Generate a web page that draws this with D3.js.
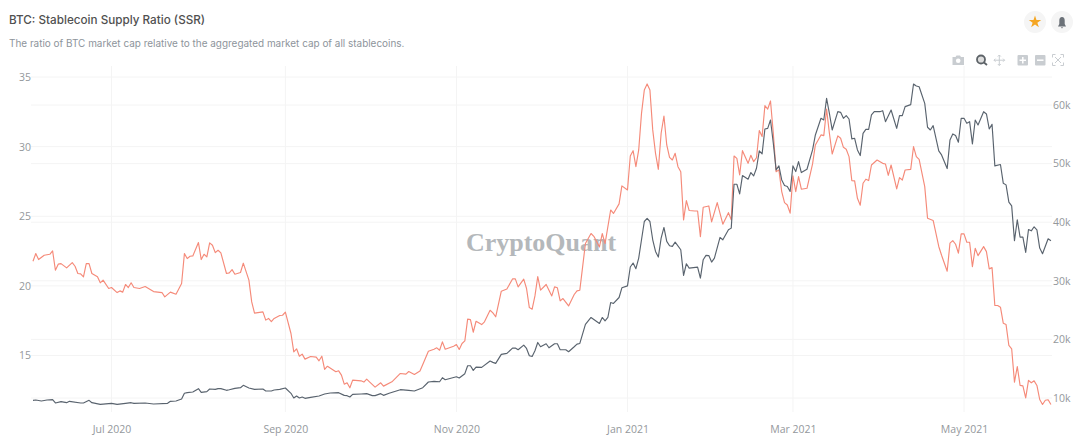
<!DOCTYPE html>
<html>
<head>
<meta charset="utf-8">
<title>BTC: Stablecoin Supply Ratio (SSR)</title>
<script src="https://cdn.jsdelivr.net/npm/d3@7"></script>
<style>
  html, body { margin: 0; padding: 0; background: #fff; }
  #chart { width: 1080px; height: 444px; }
  text { font-family: "Inter", "Noto Sans", sans-serif; }
</style>
</head>
<body>
<div id="chart"></div>
<script>
// Everything is dated as days after 1 Jul 2020
const startDate = "2020-07-01";

const ssrDays = [-28,-27,-26,-24,-22,-21,-20,-19,-18,-16,-14,-13,-12,-11,-10,-9,-8,-7,-5,-4,-3,-1,0,2,3,4,5,6,7,8,10,12,15,18,19,21,23,25,26,27,28,29,31,32,33,34,35,36,37,38,39,41,42,43,44,46,47,49,50,51,54,55,56,57,58,60,61,62,64,65,66,67,68,69,71,73,74,75,76,77,80,81,82,83,84,85,86,89,90,91,92,94,96,97,100,103,105,106,108,110,111,113,115,116,117,118,119,122,123,124,125,126,127,128,129,130,132,133,135,136,137,139,141,143,144,145,147,148,149,150,151,152,153,155,157,158,159,160,161,163,165,166,167,169,171,172,174,175,176,178,179,181,182,184,185,186,187,188,189,190,191,192,193,194,195,196,197,198,199,200,201,202,203,204,205,206,208,209,210,211,213,214,216,218,220,221,222,223,224,225,227,228,229,230,231,232,233,234,235,236,237,238,239,240,241,242,243,244,245,246,248,250,251,253,254,255,256,257,259,260,261,262,263,264,265,266,267,268,269,270,271,273,275,276,277,278,280,281,282,283,285,286,287,288,290,291,293,295,296,298,299,300,301,302,303,304,305,306,307,308,309,311,312,313,314,315,316,317,318,319,320,321,322,323,324,325,326,327,328,329,330,331,332,333,334,335];
const ssrValues = [21.77,22.32,21.89,22.2,22.27,22.51,21.12,21.56,21.6,21.29,21.67,21.41,20.89,20.86,20.65,21.6,21.6,20.89,20.65,20.22,20.41,19.81,19.88,19.52,19.64,19.55,20.1,19.88,20.22,19.88,19.81,19.95,19.59,19.52,19.21,19.55,19.4,20.17,22.32,21.96,22.13,22.15,23.11,21.89,22.27,22.08,23.09,22.92,22.39,22.56,22.37,20.89,20.93,21.17,20.84,20.96,21.63,20.41,18.85,18.04,18.13,17.54,17.66,17.44,17.66,17.87,17.89,18.11,16.58,15.26,15.48,14.95,15.1,14.74,14.93,14.88,14.62,14.95,14.0,14.23,13.83,13.9,13.59,12.94,13.04,12.68,13.23,13.18,13.09,13.3,13.11,12.73,13.04,12.8,13.11,13.71,13.66,13.85,13.64,13.88,14.35,15.31,15.45,15.55,15.38,15.98,15.45,15.67,15.79,15.43,15.86,16.05,17.61,17.58,16.67,17.46,17.22,17.42,18.25,18.06,17.78,19.62,19.78,20.5,20.5,19.93,20.48,19.81,18.44,18.33,19.28,20.67,19.69,20.1,19.28,19.93,19.86,18.92,19.09,18.56,19.38,19.64,19.69,23.04,23.76,23.56,22.8,23.76,23.04,25.45,25.2,25.89,27.18,26.89,29.33,29.71,28.56,29.76,32.39,34.07,34.5,34.07,31.2,29.52,28.37,30.96,32.2,30.12,29.23,29.04,29.52,28.56,28.2,24.74,26.12,25.41,25.38,25.38,23.54,25.65,25.74,24.59,25.98,24.43,25.26,24.74,29.33,29.16,27.97,29.71,28.8,29.38,28.92,29.2,31.15,30.72,32.94,32.7,33.28,30.96,28.2,28.33,26.77,25.98,25.81,25.22,27.9,26.77,27.85,26.94,27.01,28.76,30.12,30.84,30.79,32.7,30.96,29.47,30.77,30.6,29.95,29.81,29.28,27.56,27.54,26.29,25.79,27.37,27.66,27.56,28.68,29.04,28.8,28.75,27.94,28.68,26.96,27.77,27.6,28.32,28.37,30.0,29.28,29.09,27.13,24.86,24.7,22.83,22.2,21.05,23.07,23.25,22.99,22.35,23.73,23.73,23.13,23.13,21.38,22.7,22.17,22.82,22.46,21.22,21.31,18.59,18.59,18.47,17.32,17.22,15.72,15.48,13.09,14.21,12.85,12.82,11.96,13.21,13.04,13.18,12.85,11.84,11.48,11.79,11.82,11.48];

const btcDays = [-28,-27,-25,-23,-21,-20,-18,-16,-15,-11,-10,-8,-7,-4,0,2,5,7,8,12,15,20,21,23,25,26,27,29,31,32,34,35,37,38,39,41,42,44,46,47,49,51,54,55,57,58,60,62,64,65,66,67,68,69,71,74,76,78,81,83,84,85,86,89,91,93,94,96,97,99,103,106,108,111,113,115,117,118,119,123,124,126,127,128,129,130,132,135,136,137,139,141,143,144,145,147,148,149,150,151,152,153,155,156,158,159,160,162,163,165,166,167,169,171,172,174,175,176,177,178,179,181,182,184,185,186,187,188,189,190,191,192,193,194,195,196,197,198,199,200,201,203,204,205,206,209,210,211,212,213,214,215,217,218,220,221,222,223,224,225,227,228,229,230,231,232,233,234,235,236,237,238,239,240,241,242,243,244,245,246,248,250,251,253,254,255,256,257,259,260,261,262,263,264,265,266,267,268,269,270,271,272,274,275,276,278,280,281,282,283,285,286,287,288,290,291,292,293,295,296,298,299,300,301,302,303,304,305,306,307,308,309,311,312,313,314,315,317,318,319,320,321,322,323,324,325,326,327,328,329,330,331,332,334,335];
const btcValues = [9.6,9.66,9.49,9.66,9.72,9.15,9.38,9.2,9.43,9.15,9.15,9.6,9.2,8.92,9.09,8.92,9.09,9.2,9.09,9.15,8.98,9.09,9.43,9.49,9.83,10.8,10.91,11.02,11.59,10.97,11.08,11.53,11.48,11.59,11.6,11.31,11.4,11.65,11.76,12.16,11.7,11.48,11.53,11.19,11.19,11.36,11.48,11.7,10.8,10.0,10.34,10.0,10.17,9.94,10.11,10.34,10.68,10.85,10.91,10.45,10.4,10.17,10.62,10.68,10.74,10.4,10.4,10.74,10.45,10.8,11.42,11.31,11.19,11.76,12.73,12.84,12.78,13.46,13.12,13.63,13.41,14.15,15.51,15.51,14.71,15.28,15.22,16.3,16.08,15.91,17.44,17.61,18.52,18.52,18.23,19.03,18.46,17.21,17.1,18.06,19.48,18.75,19.26,18.57,19.26,19.26,18.23,18.23,17.89,18.75,19.2,19.31,22.55,23.74,23.4,22.72,23.74,23.17,23.74,26.3,26.13,27.15,28.8,29.14,32.35,33.03,32.06,33.88,37.0,40.12,40.64,40.12,37.0,35.01,34.05,37.29,39.1,36.72,35.98,35.87,36.6,35.3,30.93,32.91,32.17,32.34,30.47,33.6,34.33,34.3,33.2,33.88,37.4,37.0,38.7,38.99,46.48,46.48,44.84,47.96,47.34,48.47,47.9,49.21,52.16,51.65,55.91,56.02,57.44,53.47,48.93,49.61,47.22,46.26,46.09,45.24,49.61,48.64,50.35,48.47,49.04,52.33,54.89,57.73,57.44,61.14,58.58,55.74,58.86,58.75,57.73,58.18,57.61,54.21,54.32,52.33,51.37,55.17,55.85,55.85,58.3,58.86,58.86,59.03,57.16,59.15,56.02,58.18,58.18,59.72,60.06,63.58,63.24,63.12,60.28,56.2,55.74,56.48,52.16,51.48,49.15,54.04,55.06,54.78,53.64,57.73,57.73,56.88,57.16,53.36,57.44,56.59,58.86,58.47,55.91,56.7,49.61,49.84,46.66,46.37,43.42,42.79,36.83,40.41,37.45,37.45,34.84,38.76,38.53,39.22,38.7,35.58,34.62,37.17,36.83];

const xTicks = ["2020-07-01", "2020-09-01", "2020-11-01", "2021-01-01", "2021-03-01", "2021-05-01"];
const ssrTicks = [15, 20, 25, 30, 35];
const btcTicks = [10, 20, 30, 40, 50, 60];

// Set up dimensions
const width = 1080;
const height = 444;
const plot = {left: 31, right: 1052, top: 66, bottom: 412};

const parseDate = d3.utcParse("%Y-%m-%d");
const base = parseDate(startDate);

const svg = d3.select("#chart")
    .append("svg")
    .attr("width", width)
    .attr("height", height);

// Scales, calibrated on the tick positions in the reference
const xScale = d3.scaleUtc()
    .domain([parseDate("2020-07-01"), parseDate("2021-05-01")])
    .range([111.5, 964]);
const yLeft = d3.scaleLinear().domain([15, 35]).range([355.5, 77]);
const yRight = d3.scaleLinear().domain([10, 60]).range([398, 105]);

// Title and subtitle
svg.append("text")
    .attr("x", 9)
    .attr("y", 24)
    .style("font-size", "11.7px")
    .style("font-weight", 500)
    .attr("fill", "#505050")
    .text("BTC: Stablecoin Supply Ratio (SSR)");

svg.append("text")
    .attr("x", 9)
    .attr("y", 47)
    .style("font-size", "9.95px")
    .attr("fill", "#8d949b")
    .text("The ratio of BTC market cap relative to the aggregated market cap of all stablecoins.");

// Grid lines
const grid = svg.append("g").attr("stroke", "#f4f4f4").attr("stroke-width", 1);
grid.selectAll(".gx")
    .data(xTicks)
    .enter()
    .append("line")
    .attr("x1", d => xScale(parseDate(d)))
    .attr("x2", d => xScale(parseDate(d)))
    .attr("y1", plot.top)
    .attr("y2", plot.bottom);
grid.selectAll(".gl")
    .data(ssrTicks)
    .enter()
    .append("line")
    .attr("x1", plot.left)
    .attr("x2", plot.right)
    .attr("y1", d => yLeft(d))
    .attr("y2", d => yLeft(d));
grid.selectAll(".gr")
    .data(btcTicks)
    .enter()
    .append("line")
    .attr("x1", plot.left)
    .attr("x2", plot.right)
    .attr("y1", d => yRight(d))
    .attr("y2", d => yRight(d));

// Axes
function styleAxis(g) {
    g.select(".domain").remove();
    g.selectAll("line").remove();
    g.selectAll("text")
        .attr("fill", "#94989c")
        .style("font-size", "10.5px")
        .style("font-family", "'Open Sans', sans-serif");
}

svg.append("g")
    .attr("transform", `translate(0,${plot.bottom + 4})`)
    .call(d3.axisBottom(xScale)
        .tickValues(xTicks.map(parseDate))
        .tickFormat(d3.utcFormat("%b %Y"))
        .tickSize(0)
        .tickPadding(10))
    .call(styleAxis);

svg.append("g")
    .attr("transform", `translate(${plot.left + 1},0)`)
    .call(d3.axisLeft(yLeft).tickValues(ssrTicks).tickSize(0).tickPadding(1))
    .call(styleAxis);

svg.append("g")
    .attr("transform", `translate(${plot.right},0)`)
    .call(d3.axisRight(yRight).tickValues(btcTicks).tickFormat(d => d + "k").tickSize(0).tickPadding(1))
    .call(styleAxis);

// Watermark
svg.append("text")
    .attr("x", 541)
    .attr("y", 251)
    .attr("text-anchor", "middle")
    .style("font-family", "'Liberation Serif', serif")
    .style("font-size", "26px")
    .style("font-weight", "bold")
    .attr("fill", "#b4b8bb")
    .text("CryptoQuant");

// Series
function drawSeries(days, values, yScale, color) {
    const points = days.map((n, i) => ({date: d3.utcDay.offset(base, n), value: values[i]}));
    const line = d3.line()
        .x(d => xScale(d.date))
        .y(d => yScale(d.value));
    svg.append("path")
        .datum(points)
        .attr("fill", "none")
        .attr("stroke", color)
        .attr("stroke-width", 1.15)
        .attr("stroke-linejoin", "round")
        .attr("d", line);
}

drawSeries(ssrDays, ssrValues, yLeft, "#f58a79");
drawSeries(btcDays, btcValues, yRight, "#59636e");

// Star and bell buttons
const buttons = svg.append("g");
buttons.selectAll("circle")
    .data([1035, 1062])
    .enter()
    .append("circle")
    .attr("cx", d => d)
    .attr("cy", 22)
    .attr("r", 11)
    .attr("fill", "#f5f5f5");
buttons.append("path")
    .attr("transform", "translate(1035,22)")
    .attr("d", d3.symbol(d3.symbolStar, 48)())
    .attr("fill", "#f5a623");
buttons.append("path")
    .attr("d", "M1058 26.5 L1059.3 24 L1059.3 20.5 Q1059.3 17 1062 17 Q1064.7 17 1064.7 20.5 L1064.7 24 L1066 26.5 Z M1060.8 27.3 L1063.2 27.3 L1062 28.5 Z")
    .attr("fill", "#6b7178");

// Mode bar
const modebar = svg.append("g");
modebar.append("path")
    .attr("d", "M952.5 57 L955.5 57 L956.5 55.5 L960 55.5 L961 57 L964 57 L964 65 L952.5 65 Z")
    .attr("fill", "#c9cdd1");
modebar.append("circle").attr("cx", 958.2).attr("cy", 60.8).attr("r", 2.3).attr("fill", "#fff");
modebar.append("circle").attr("cx", 981).attr("cy", 59.5).attr("r", 4)
    .attr("fill", "#ddd").attr("stroke", "#5d6368").attr("stroke-width", 1.8);
modebar.append("line").attr("x1", 984).attr("y1", 62.5).attr("x2", 987).attr("y2", 65)
    .attr("stroke", "#5d6368").attr("stroke-width", 1.8);
modebar.append("path")
    .attr("d", "M999.3 55 V65.5 M994 60.2 H1004.6 M997.8 56.5 L999.3 55 L1000.8 56.5 M997.8 64 L999.3 65.5 L1000.8 64 M995.5 58.7 L994 60.2 L995.5 61.7 M1003.1 58.7 L1004.6 60.2 L1003.1 61.7")
    .attr("fill", "none").attr("stroke", "#c9cdd1").attr("stroke-width", 1);
modebar.append("rect").attr("x", 1017.5).attr("y", 55).attr("width", 10.5).attr("height", 10.5).attr("rx", 1).attr("fill", "#c9cdd1");
modebar.append("path").attr("d", "M1022.8 57 V63.5 M1019.5 60.2 H1026").attr("stroke", "#fff").attr("stroke-width", 1.5);
modebar.append("rect").attr("x", 1035).attr("y", 55).attr("width", 10.5).attr("height", 10.5).attr("rx", 1).attr("fill", "#c9cdd1");
modebar.append("path").attr("d", "M1037 60.2 H1043.5").attr("stroke", "#fff").attr("stroke-width", 1.5);
modebar.append("path")
    .attr("d", "M1052.5 57.5 V54.5 H1055.5 M1060.5 54.5 H1063.5 V57.5 M1063.5 62.5 V65.5 H1060.5 M1055.5 65.5 H1052.5 V62.5 M1055 57 L1061 63 M1061 57 L1055 63")
    .attr("fill", "none").attr("stroke", "#c9cdd1").attr("stroke-width", 1);
</script>
</body>
</html>
